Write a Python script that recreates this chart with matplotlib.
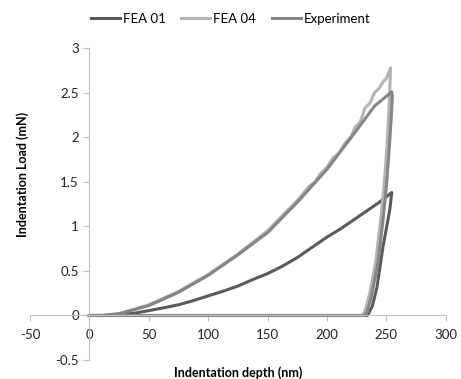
import matplotlib.pyplot as plt

# Indentation depth (nm) and load (mN), loading then unloading
fea01_depth = [0, 13, 25, 40, 50, 62, 75, 87, 100, 112, 125, 137, 150, 162, 175, 187,
               200, 210, 220, 232, 244, 254.5,
               253, 251, 247, 242, 238, 234, 0]
fea01_load = [0, 0, 0.01, 0.03, 0.055, 0.085, 0.12, 0.165, 0.22, 0.27, 0.33, 0.4, 0.47, 0.55, 0.65, 0.76,
              0.88, 0.96, 1.05, 1.16, 1.27, 1.38,
              1.2, 1.05, 0.76, 0.31, 0.1, 0, 0]

fea04_depth = [0, 11, 25, 50, 75, 100, 125, 150, 175, 185, 190, 195, 200, 205, 210, 215, 220, 224,
               228, 232, 236, 240, 244, 247, 250, 253.5,
               252.5, 250.5, 248, 245, 241, 236, 232, 230, 0]
fea04_load = [0, 0, 0.02, 0.12, 0.27, 0.46, 0.69, 0.95, 1.29, 1.45, 1.5, 1.6, 1.66, 1.77, 1.82, 1.93, 2.0, 2.12,
              2.17, 2.33, 2.38, 2.5, 2.55, 2.62, 2.66, 2.78,
              2.4, 1.9, 1.45, 1.05, 0.6, 0.25, 0.05, 0, 0]

exp_depth = [0, 11, 25, 50, 75, 100, 125, 150, 175, 200, 225, 240, 254.5,
             255, 254, 252, 250, 247, 243, 238, 234, 232, 0]
exp_load = [0, 0, 0.02, 0.11, 0.26, 0.45, 0.68, 0.93, 1.27, 1.64, 2.08, 2.35, 2.51,
            2.45, 2.2, 1.8, 1.45, 1.05, 0.6, 0.25, 0.05, 0, 0]

plt.rcParams['font.family'] = ['Lato', 'DejaVu Sans']
plt.rcParams['axes.unicode_minus'] = False

fig = plt.figure(figsize=(4.61, 3.79), dpi=100)
ax = fig.add_axes([0.065, 0.050, 0.902, 0.823])

ax.plot(fea01_depth, fea01_load, color='#5a5a5a', lw=2.2, label='FEA 01')
ax.plot(fea04_depth, fea04_load, color='#b4b4b4', lw=2.2, label='FEA 04')
ax.plot(exp_depth, exp_load, color='#858585', lw=2.2, label='Experiment')

ax.set_xlim(-50, 300)
ax.set_ylim(-0.5, 3)
ax.set_xticks(range(-50, 301, 50))
ax.set_yticks([-0.5, 0, 0.5, 1, 1.5, 2, 2.5, 3])
ax.set_yticklabels(['-0.5', '0', '0.5', '1', '1.5', '2', '2.5', '3'])

ax.spines['left'].set_position(('data', 0))
ax.spines['bottom'].set_position(('data', 0))
ax.spines['top'].set_visible(False)
ax.spines['right'].set_visible(False)
for s in ['left', 'bottom']:
    ax.spines[s].set_color('#c0c0c0')
ax.tick_params(colors='#c0c0c0', labelcolor='#222222', labelsize=9.5, length=4, width=0.8)
ax.tick_params(axis='x', pad=6)

fig.text(0.05, 0.54, 'Indentation Load (mN)', rotation=90, ha='center', va='center',
         fontsize=9, fontweight='bold')
fig.text(0.516, 0.018, 'Indentation depth (nm)', ha='center', va='center',
         fontsize=9, fontweight='bold')

fig.legend(loc='center', bbox_to_anchor=(0.5, 0.95), ncol=3, frameon=False,
           fontsize=9.5, handlelength=2.2, handletextpad=0.2, columnspacing=1.2)

fig.savefig('out.png', dpi=100)
